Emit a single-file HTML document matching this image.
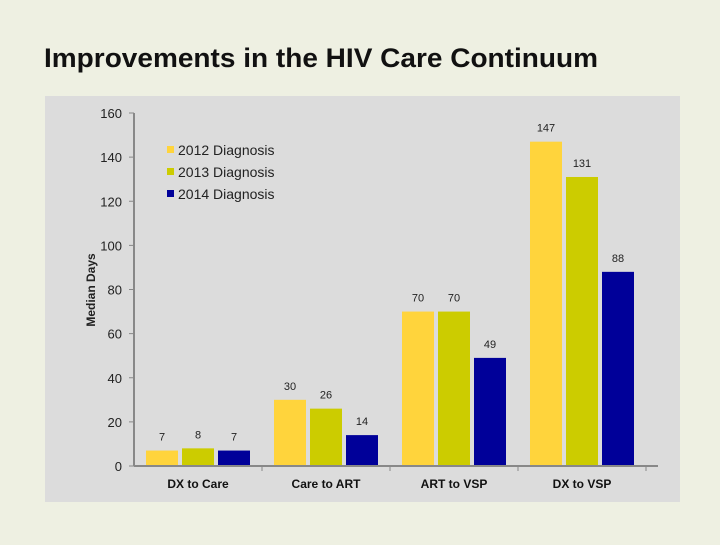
<!DOCTYPE html>
<html><head><meta charset="utf-8"><style>
body{margin:0;background:#eef0e2;width:720px;height:540px;overflow:hidden;font-family:"Liberation Sans",sans-serif}
</style></head><body>
<svg width="720" height="540">
<rect width="720" height="540" fill="#eef0e2"/>
<text x="44" y="67" font-size="27" font-weight="bold" fill="#111" textLength="554" lengthAdjust="spacingAndGlyphs" font-family="Liberation Sans, sans-serif">Improvements in the HIV Care Continuum</text>
<rect x="45" y="96" width="635" height="406" fill="#dcdcdc"/>
<g id="g"></g>
</svg>
<script>
const categories=["DX to Care","Care to ART","ART to VSP","DX to VSP"];
const series2012=[7,30,70,147];
const series2013=[8,26,70,131];
const series2014=[7,14,49,88];
const yTicks=[0,20,40,60,80,100,120,140,160];
const seriesNames=["2012 Diagnosis","2013 Diagnosis","2014 Diagnosis"];
const colors=["#ffd43c","#cccc00","#000099"];
const g=document.getElementById('g');const NS="http://www.w3.org/2000/svg";
function mk(t,a,txt){const e=document.createElementNS(NS,t);for(const k in a)e.setAttribute(k,a[k]);if(txt!==undefined)e.textContent=txt;g.appendChild(e);return e;}
const x0=134,y0=466,yTop=113,band=128;
const y=v=>y0-(v/160)*(y0-yTop);
const x=(i,s)=>x0+12+i*band+s*36;
let e=mk('line',{x1:x0,y1:yTop,x2:x0,y2:y0,stroke:'#888','stroke-width':2});

yTicks.forEach(t=>{mk('line',{x1:x0-5,y1:y(t),x2:x0,y2:y(t),stroke:'#888'});
 e=mk('text',{x:x0-12,y:y(t)+5,'text-anchor':'end','font-size':13,fill:'#222'},t);
 });
e=mk('text',{x:0,y:0,transform:'translate(95,290) rotate(-90)','text-anchor':'middle','font-size':12,'font-weight':'bold',fill:'#222'},'Median Days');

const all=[series2012,series2013,series2014];
all.forEach((ser,s)=>ser.forEach((v,i)=>{
 e=mk('rect',{x:x(i,s),y:y(v),width:32,height:y0-y(v),fill:colors[s]});
 
 e=mk('text',{x:x(i,s)+16,y:y(v)-10,'text-anchor':'middle','font-size':11,fill:'#222'},v);
 
}));
e=mk('line',{x1:x0,y1:y0,x2:x0+4*band+12,y2:y0,stroke:'#888','stroke-width':2});

categories.forEach((c,i)=>{
 mk('line',{x1:x0+(i+1)*band,y1:y0,x2:x0+(i+1)*band,y2:y0+5,stroke:'#888'});
 e=mk('text',{x:x0+i*band+64,y:488,'text-anchor':'middle','font-size':12,'font-weight':'bold',fill:'#111'},c);
 });
seriesNames.forEach((n,s)=>{
 e=mk('rect',{x:167,y:146+s*22,width:7,height:7,fill:colors[s]});
 
 e=mk('text',{x:178,y:155+s*22,'font-size':14,fill:'#222'},n);
 });
</script>
</body></html>
